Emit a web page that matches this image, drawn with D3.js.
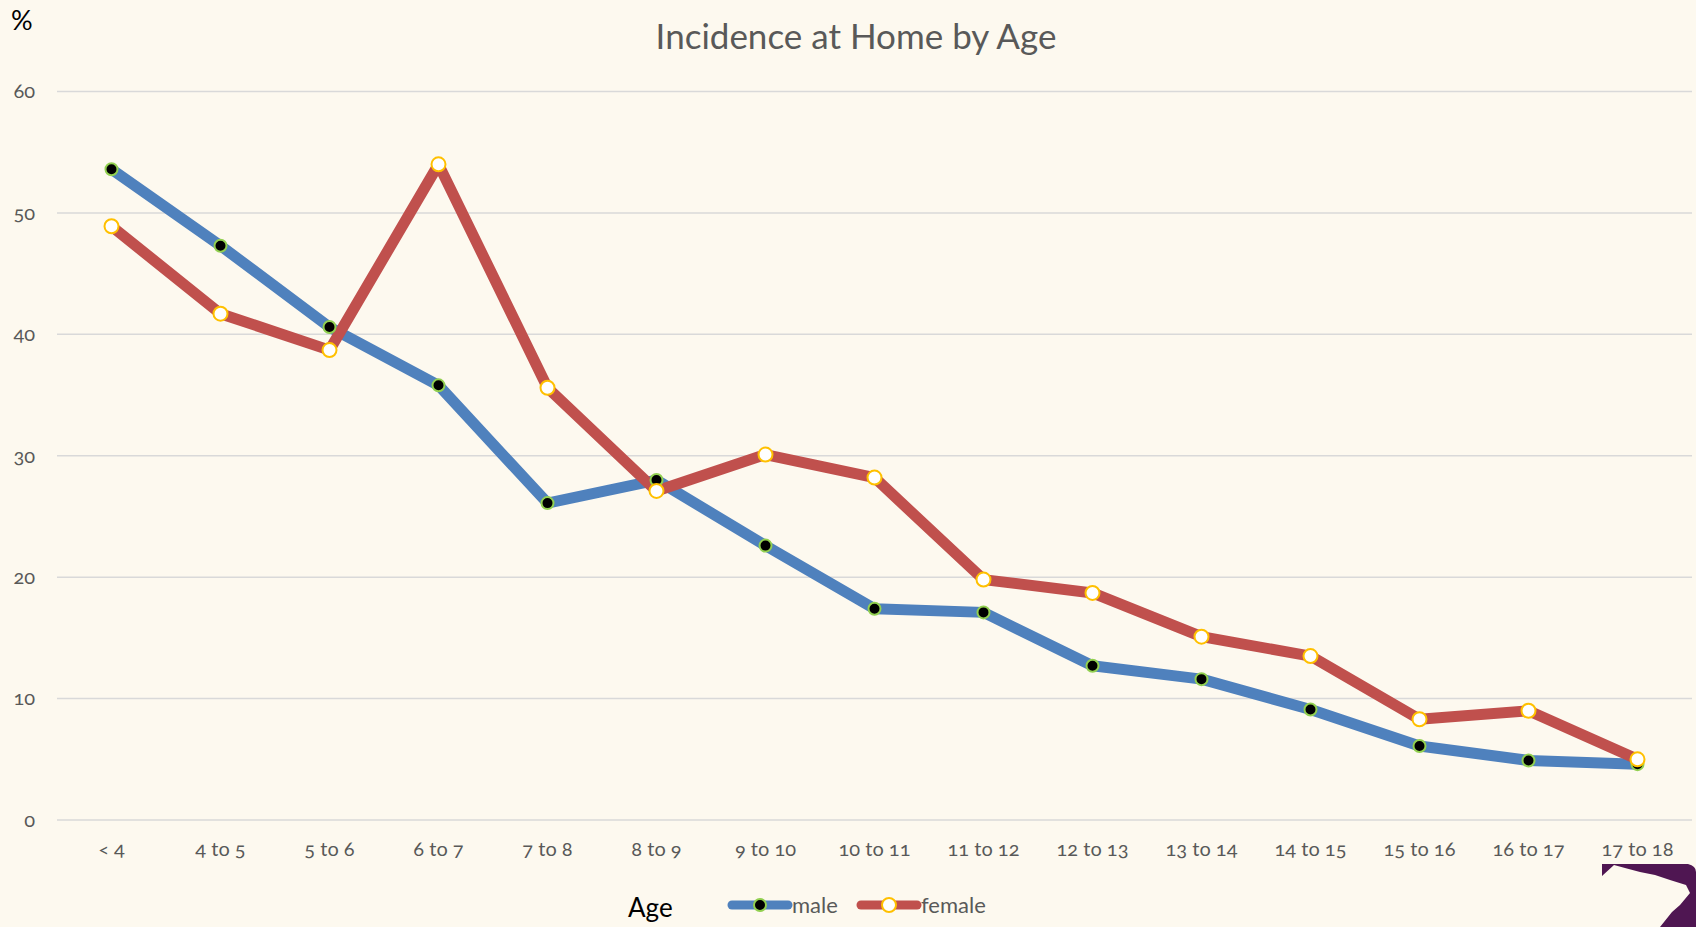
<!DOCTYPE html>
<html>
<head>
<meta charset="utf-8">
<script src="https://cdn.jsdelivr.net/npm/d3@7"></script>
<style>
  body { margin: 0; background: #fdf9ef; }
  svg { display: block; }
  text { font-family: Lato, "Open Sans", sans-serif; }
</style>
</head>
<body>
<svg id="chart" width="1696" height="927"></svg>
<script>
// данные графика
const ages = ['< 4', '4 to 5', '5 to 6', '6 to 7', '7 to 8', '8 to 9', '9 to 10', '10 to 11',
    '11 to 12', '12 to 13', '13 to 14', '14 to 15', '15 to 16', '16 to 17', '17 to 18'];
const male = [53.6, 47.3, 40.6, 35.8, 26.1, 28.0, 22.6, 17.4, 17.1, 12.7, 11.6, 9.1, 6.1, 4.9, 4.6];
const female = [48.9, 41.7, 38.7, 54.0, 35.6, 27.1, 30.1, 28.2, 19.8, 18.7, 15.1, 13.5, 8.3, 9.0, 5.0];
const yTicks = [0, 10, 20, 30, 40, 50, 60];

const series = [
    { name: 'male', values: male, color: '#4f81bd', fill: '#000', stroke: '#92d050', r: 6 },
    { name: 'female', values: female, color: '#c0504d', fill: '#fff', stroke: '#ffc000', r: 7 }
];

const svg = d3.select('#chart');
svg.append('rect').attr('width', 1696).attr('height', 927).attr('fill', '#fdf9ef');

const x = d3.scaleBand().domain(ages).range([57, 1692]);
const y = d3.scaleLinear().domain([0, 60]).range([820, 91.5]);

// сетка
svg.append('g')
    .selectAll('line')
    .data(yTicks)
    .enter()
    .append('line')
    .attr('x1', 57)
    .attr('x2', 1692)
    .attr('y1', d => y(d))
    .attr('y2', d => y(d))
    .attr('stroke', '#d9d9d9')
    .attr('stroke-width', 1.5);

// ось Y
const yAxis = svg.append('g')
    .attr('transform', 'translate(35,0)')
    .call(d3.axisLeft(y).tickValues(yTicks).tickSize(0).tickPadding(0));
yAxis.select('.domain').remove();
yAxis.selectAll('text')
    .attr('fill', '#595959')
    .style('font-size', '20px')
    .style('font-variant-numeric', 'oldstyle-nums');

// ось X
const xAxis = svg.append('g')
    .attr('transform', 'translate(0,842)')
    .call(d3.axisBottom(x).tickSize(0).tickPadding(0));
xAxis.select('.domain').remove();
xAxis.selectAll('text')
    .attr('fill', '#595959')
    .style('font-size', '20px')
    .style('font-variant-numeric', 'oldstyle-nums');

// линии
const line = d3.line()
    .x((d, i) => x(ages[i]) + x.bandwidth() / 2)
    .y(d => y(d));

series.forEach(s => {
    svg.append('path')
        .datum(s.values)
        .attr('d', line)
        .attr('fill', 'none')
        .attr('stroke', s.color)
        .attr('stroke-width', 11)
        .attr('stroke-linejoin', 'round');
});

// маркеры поверх линий
series.forEach(s => {
    svg.append('g')
        .selectAll('circle')
        .data(s.values)
        .enter()
        .append('circle')
        .attr('cx', (d, i) => x(ages[i]) + x.bandwidth() / 2)
        .attr('cy', d => y(d))
        .attr('r', s.r)
        .attr('fill', s.fill)
        .attr('stroke', s.stroke)
        .attr('stroke-width', 2);
});

// заголовок
svg.append('text')
    .attr('x', 856)
    .attr('y', 49)
    .attr('text-anchor', 'middle')
    .attr('fill', '#595959')
    .style('font-size', '35px')
    .text('Incidence at Home by Age');

svg.append('text')
    .attr('x', 11)
    .attr('y', 30)
    .attr('fill', '#000')
    .style('font-size', '27px')
    .text('%');

svg.append('text')
    .attr('x', 628)
    .attr('y', 917)
    .attr('fill', '#000')
    .style('font-size', '26px')
    .text('Age');

// легенда
const legend = svg.append('g');
const legendX = [730, 859];
series.forEach((s, i) => {
    const g = legend.append('g').attr('transform', `translate(${legendX[i]},905)`);
    g.append('line')
        .attr('x1', 2).attr('x2', 58)
        .attr('stroke', s.color)
        .attr('stroke-width', 9)
        .attr('stroke-linecap', 'round');
    g.append('circle')
        .attr('cx', 30)
        .attr('r', s.r)
        .attr('fill', s.fill)
        .attr('stroke', s.stroke)
        .attr('stroke-width', 2);
    g.append('text')
        .attr('x', 62)
        .attr('y', 8)
        .attr('fill', '#595959')
        .style('font-size', '22px')
        .text(s.name);
});

// декор в углу
svg.append('path')
    .attr('d', 'M1602,864 L1688,864 Q1696,866 1696,872 L1696,927 L1660,927 L1672,912 L1680,905 L1690,893 L1686,885 L1670,880 L1655,875 L1640,872 L1625,868 L1614,865 L1602,876 Z')
    .attr('fill', '#4f1652');
</script>
</body>
</html>
